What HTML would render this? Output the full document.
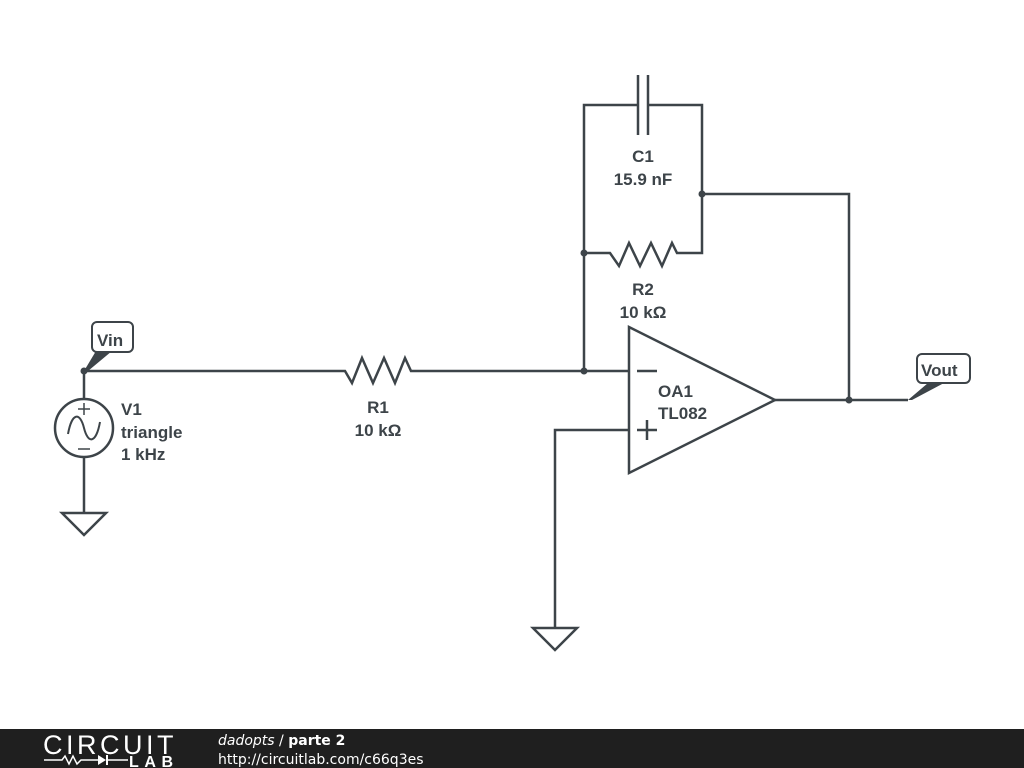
<!DOCTYPE html>
<html><head><meta charset="utf-8"><style>
body{margin:0;width:1024px;height:768px;background:#fff;overflow:hidden;}
svg{display:block}
text{font-family:"Liberation Sans",sans-serif;font-weight:bold;fill:#3d4449;font-size:17px;}
</style></head><body>
<svg width="1024" height="768" viewBox="0 0 1024 768">
<g stroke="#3d4449" stroke-width="2.5" fill="none" stroke-linejoin="miter">
<polyline points="84,371 345,371 352,383 362,358 373,383 384,358 395,383 405,358 411,371 629,371"/>
<line x1="84" y1="371" x2="84" y2="399"/>
<circle cx="84" cy="428" r="29"/>
<line x1="84" y1="457" x2="84" y2="513"/>
<polygon points="62,513 106,513 84,535"/>
<path d="M68,434 C72,412 80,412 84,428 C88,444 96,444 100,422" stroke-width="2"/>
<line x1="84" y1="403" x2="84" y2="415" stroke-width="1.5"/>
<line x1="78" y1="409" x2="90" y2="409" stroke-width="1.5"/>
<line x1="78" y1="449" x2="90" y2="449" stroke-width="1.5"/>
<polyline points="584,371 584,105 638,105"/>
<line x1="638" y1="75" x2="638" y2="135"/>
<line x1="648" y1="75" x2="648" y2="135"/>
<polyline points="648,105 702,105 702,253 677,253 672,243 662,266 651,243 640,266 629,243 619,266 610,253 584,253"/>
<polyline points="702,194 849,194 849,400"/>
<polygon points="629,327 629,473 775,400"/>
<line x1="775" y1="400" x2="908" y2="400"/>
<line x1="637" y1="371" x2="657" y2="371"/>
<line x1="637" y1="430" x2="657" y2="430"/>
<line x1="647" y1="420" x2="647" y2="440"/>
<polyline points="629,430 555,430 555,628"/>
<polygon points="533,628 577,628 555,650"/>
<rect x="92" y="322" width="41" height="30" rx="5" stroke-width="2"/>
<rect x="917" y="354" width="53" height="29" rx="5" stroke-width="2"/>
</g>
<g fill="#3d4449">
<circle cx="84" cy="371" r="3.5"/>
<circle cx="584" cy="371" r="3.5"/>
<circle cx="584" cy="253" r="3.5"/>
<circle cx="702" cy="194" r="3.5"/>
<circle cx="849" cy="400" r="3.5"/>
<polygon points="84,371 96,351 112,351 88,371"/>
<polygon points="908,400 928,383 944,383 912,400"/>
</g>
<text x="97" y="346">Vin</text>
<text x="921" y="376">Vout</text>
<text x="121" y="415">V1</text>
<text x="121" y="438">triangle</text>
<text x="121" y="460">1 kHz</text>
<text x="378" y="413" text-anchor="middle">R1</text>
<text x="378" y="436" text-anchor="middle">10 kΩ</text>
<text x="643" y="162" text-anchor="middle">C1</text>
<text x="643" y="185" text-anchor="middle">15.9 nF</text>
<text x="643" y="295" text-anchor="middle">R2</text>
<text x="643" y="318" text-anchor="middle">10 kΩ</text>
<text x="658" y="397">OA1</text>
<text x="658" y="419">TL082</text>
<rect x="0" y="729" width="1024" height="39" fill="#1f1f1f"/>
<text x="43" y="754" style="font-weight:normal;font-size:27px;fill:#fff;letter-spacing:-0.5px" textLength="130">CIRCUIT</text>
<polyline points="44,760 62,760 65,756 69,764 73,756 77,764 81,760 98,760" stroke="#fff" stroke-width="1.5" fill="none"/>
<polygon points="98,755 98,765 106,760" fill="#fff"/>
<line x1="107" y1="755" x2="107" y2="765" stroke="#fff" stroke-width="2"/>
<line x1="107" y1="760" x2="128" y2="760" stroke="#fff" stroke-width="1.5"/>
<text x="129" y="767" style="font-size:16px;fill:#fff" textLength="44">LAB</text>
<text x="218" y="745" style="font-family:'DejaVu Sans',sans-serif;font-size:14px;fill:#fff;font-weight:normal"><tspan font-style="italic">dadopts</tspan> / <tspan font-weight="bold">parte 2</tspan></text>
<text x="218" y="764" style="font-family:'DejaVu Sans',sans-serif;font-size:14px;fill:#fff;font-weight:normal">http://circuitlab.com/c66q3es</text>
</svg>
</body></html>
